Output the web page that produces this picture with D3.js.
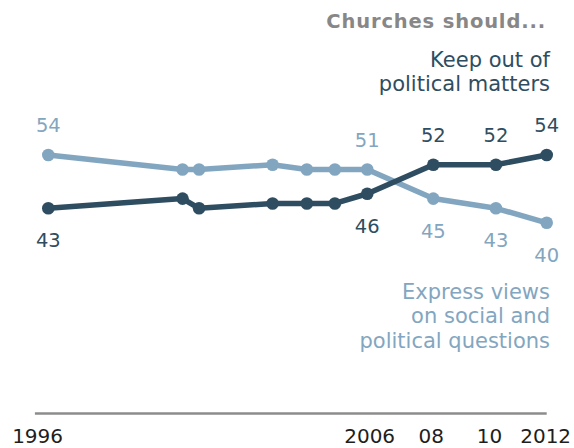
<!DOCTYPE html>
<html>
<head>
<meta charset="utf-8">
<script src="https://cdn.jsdelivr.net/npm/d3@7"></script>
<style>
  html, body { margin: 0; padding: 0; background: #fff; }
  svg { display: block; font-family: "DejaVu Sans", Verdana, sans-serif; }
</style>
</head>
<body>
<svg id="chart" width="574" height="448"></svg>
<script>
// ---- data ----
const surveyDates = [1996, 2000.31, 2000.84, 2003.20, 2004.30, 2005.20, 2006.24, 2008.36, 2010.37, 2012];
const keepOut = [43, 45, 43, 44, 44, 44, 46, 52, 52, 54];
const express = [54, 51, 51, 52, 51, 51, 51, 45, 43, 40];
// which points carry value labels, and on which side ("above"/"below")
const keepOutLabelIdx = [0, 6, 7, 8, 9];
const keepOutLabelSide = ["below", "below", "above", "above", "above"];
const expressLabelIdx = [0, 6, 7, 8, 9];
const expressLabelSide = ["above", "above", "below", "below", "below"];
const tickPositions = [1995.64, 2006.30, 2008.28, 2010.15, 2011.95];
const tickLabels = ["1996", "2006", "08", "10", "2012"];
const title = "Churches should...";
const keepOutName = ["Keep out of", "political matters"];
const expressName = ["Express views", "on social and", "political questions"];

// ---- styles ----
const darkColor = "#2f4d61";
const lightColor = "#83a6c0";

const svg = d3.select("#chart");
const x = d3.scaleLinear().domain([1996, 2012]).range([48.3, 546.7]);
const y = d3.scaleLinear().domain([40, 54]).range([222.8, 155]);
const axisY = 413.5;

// axis baseline
svg.append("line")
  .attr("x1", x(1995.57)).attr("x2", x(2012))
  .attr("y1", axisY).attr("y2", axisY)
  .attr("stroke", "#8c8c8c").attr("stroke-width", 2.5);

// axis labels
const axis = d3.axisBottom(x)
  .tickValues(tickPositions)
  .tickFormat((d, i) => tickLabels[i])
  .tickSize(0)
  .tickPadding(0);
const gAxis = svg.append("g").attr("transform", `translate(0,${axisY})`).call(axis);
gAxis.select(".domain").remove();
gAxis.selectAll("text")
  .attr("dy", null)
  .attr("y", 29.5)
  .style("font-family", '"DejaVu Sans", Verdana, sans-serif')
  .style("font-size", "20px")
  .attr("fill", "#1e1e1e");

function drawSeries(values, color) {
  const pts = values.map((v, i) => [surveyDates[i], v]);
  const line = d3.line().x(d => x(d[0])).y(d => y(d[1]));
  const g = svg.append("g");
  g.append("path").datum(pts)
    .attr("d", line)
    .attr("fill", "none")
    .attr("stroke", color)
    .attr("stroke-width", 5.5)
    .attr("stroke-linejoin", "round");
  g.selectAll("circle").data(pts).enter().append("circle")
    .attr("cx", d => x(d[0])).attr("cy", d => y(d[1]))
    .attr("r", 6.3).attr("fill", color);
}

function drawLabels(values, idx, sides, color) {
  svg.append("g").selectAll("text").data(idx).enter().append("text")
    .attr("x", i => x(surveyDates[i]))
    .attr("y", (i, k) => y(values[i]) + (sides[k] === "above" ? -23 : 39))
    .attr("text-anchor", "middle")
    .attr("fill", color)
    .style("font-size", "19.5px")
    .text(i => values[i]);
}

drawSeries(express, lightColor);
drawSeries(keepOut, darkColor);
drawLabels(express, expressLabelIdx, expressLabelSide, lightColor);
drawLabels(keepOut, keepOutLabelIdx, keepOutLabelSide, darkColor);

// title
svg.append("text")
  .attr("x", 546).attr("y", 28.3)
  .attr("text-anchor", "end")
  .attr("fill", "#878787")
  .style("font-size", "19.5px")
  .style("font-weight", "bold")
  .style("letter-spacing", "0.85px")
  .text(title);

// series names
svg.append("text")
  .attr("text-anchor", "end")
  .attr("fill", darkColor)
  .style("font-size", "21px")
  .selectAll("tspan").data(keepOutName).enter().append("tspan")
  .attr("x", 550).attr("y", (d, i) => 66.7 + i * 24)
  .text(d => d);

svg.append("text")
  .attr("text-anchor", "end")
  .attr("fill", lightColor)
  .style("font-size", "21px")
  .selectAll("tspan").data(expressName).enter().append("tspan")
  .attr("x", 550).attr("y", (d, i) => 298.5 + i * 24.6)
  .text(d => d);
</script>
</body>
</html>
